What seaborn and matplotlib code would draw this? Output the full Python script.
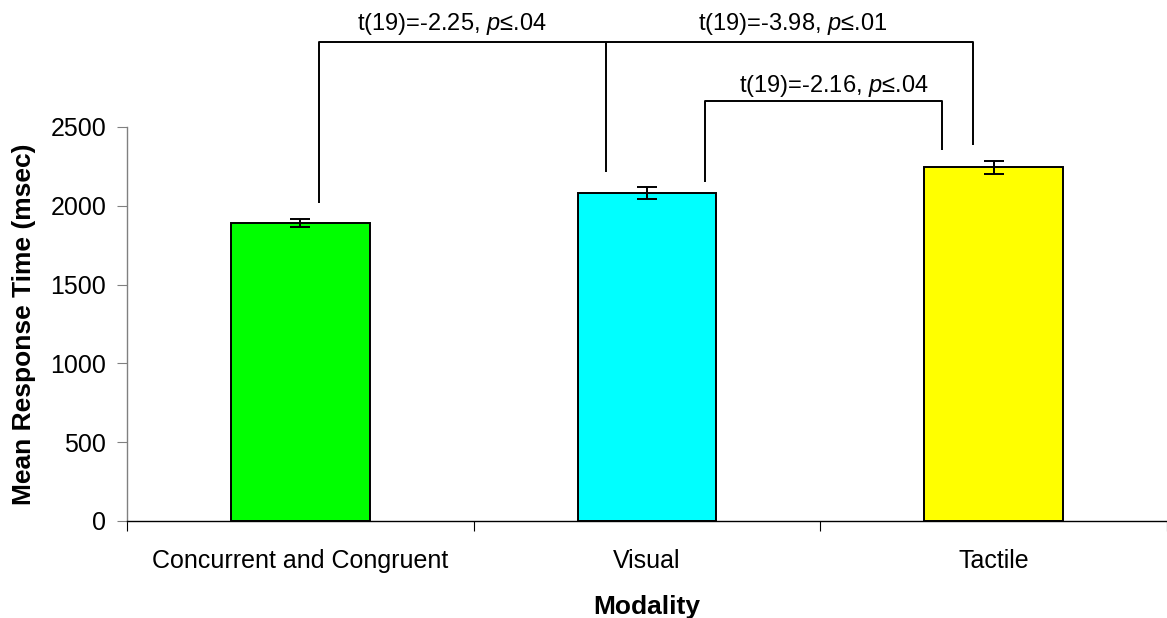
import matplotlib
matplotlib.use("Agg")
import matplotlib.pyplot as plt
import seaborn as sns
import pandas as pd

categories = ["Concurrent and Congruent", "Visual", "Tactile"]
means = [1890, 2080, 2245]
errors = [25, 40, 42]
colors = ["#00FF00", "#00FFFF", "#FFFF00"]
yticks = [0, 500, 1000, 1500, 2000, 2500]
stats = ["t(19)=-2.25, ", "t(19)=-3.98, ", "t(19)=-2.16, "]
pvals = [".04", ".01", ".04"]

sns.set_theme(style="white")
plt.rcParams['font.family'] = ['Liberation Sans', 'DejaVu Sans']
plt.rcParams['mathtext.fontset'] = 'custom'
plt.rcParams['mathtext.rm'] = 'Liberation Sans'
plt.rcParams['mathtext.it'] = 'Liberation Sans:italic'
for k in ['text.color', 'axes.labelcolor', 'xtick.color', 'ytick.color']:
    plt.rcParams[k] = 'black'

df = pd.DataFrame({"Modality": categories, "RT": means})

fig = plt.figure(figsize=(11.67, 6.18), dpi=100)
ax = fig.add_axes([0.1088, 0.157, 0.8912, 0.6375])

sns.barplot(data=df, x="Modality", y="RT", hue="Modality", palette=colors,
            width=0.4, edgecolor="black", linewidth=1.4, ax=ax, legend=False,
            errorbar=None, saturation=1)
ax.errorbar(range(len(categories)), means, yerr=errors, fmt="none",
            ecolor="black", elinewidth=1.4, capsize=7, capthick=1.4)

ax.set_xlim(-0.5, 2.5)
ax.set_ylim(0, 2500)
ax.set_yticks(yticks)
ax.set_xticks([-0.5, 0.5, 1.5, 2.5], minor=False)
ax.set_xticklabels([])
ax.set_xticks(range(3), minor=True)
ax.set_xticklabels(categories, minor=True)
ax.tick_params(axis="x", which="major", direction="out", length=7, width=0.8, color="black", bottom=True)
ax.tick_params(axis="x", which="minor", length=0, pad=20, labelsize=18)
ax.tick_params(axis="y", direction="out", length=7, width=0.8, color="gray", left=True, labelsize=18, pad=8)
for s in ["top", "right"]:
    ax.spines[s].set_visible(False)
ax.spines["left"].set_color("gray")
ax.spines["bottom"].set_color("black")
ax.spines["left"].set_linewidth(1.0)
ax.spines["bottom"].set_linewidth(1.0)

ax.set_xlabel("Modality", fontsize=19, fontweight="bold", labelpad=16)
ax.set_ylabel("Mean Response Time (msec)", fontsize=19, fontweight="bold", labelpad=10)

# significance brackets
kw = dict(color="black", lw=1.4, clip_on=False, solid_capstyle="butt")
top_y = 3040
mid_y = 2665
ax.plot([0.055, 0.055, 1.94, 1.94], [2018, top_y, top_y, 2386], **kw)
ax.plot([0.882, 0.882], [2214, top_y], **kw)
ax.plot([1.167, 1.167, 1.85, 1.85], [2151, mid_y, mid_y, 2354], **kw)

def label(x, y, s, p):
    ax.text(x, y, s + r"$\mathit{p}$" + "≤" + p, ha="center", va="baseline",
            fontsize=17, clip_on=False)

label(0.438, 3115, stats[0], pvals[0])
label(1.42, 3115, stats[1], pvals[1])
label(1.539, 2720, stats[2], pvals[2])

fig.savefig("out.png", dpi=100)
